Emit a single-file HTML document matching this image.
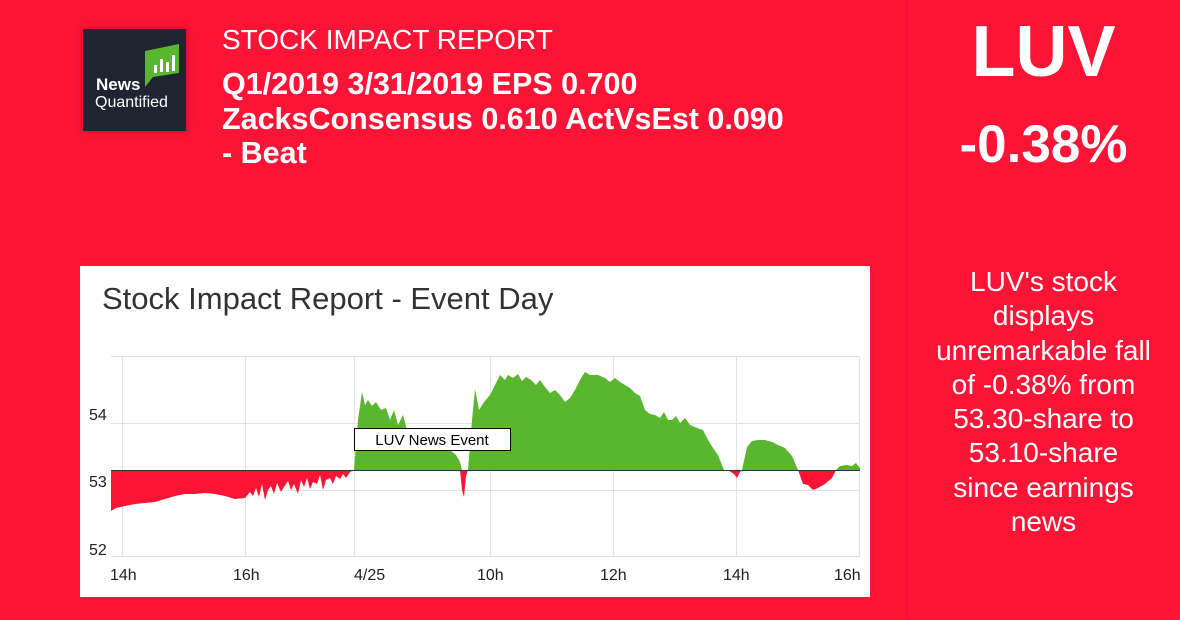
<!DOCTYPE html>
<html><head><meta charset="utf-8"><style>
html,body{margin:0;padding:0}
body{width:1180px;height:620px;background:#fc1436;position:relative;overflow:hidden;font-family:"Liberation Sans",Arial,sans-serif;color:#fff}
.abs{position:absolute}
</style></head><body>
<div class="abs" style="left:906px;top:0;width:1px;height:620px;background:#e5112f"></div>
<div class="abs" style="left:83px;top:29px;width:103px;height:102px;background:#1e2430;box-shadow:0 0 8px rgba(0,0,0,0.25)">
  <svg width="103" height="102" style="position:absolute;left:0;top:0">
    <path d="M62 22 L96 15 L96 44 L70 48 L62 58 Z" fill="#5ab52f"/>
    <rect x="71" y="36" width="3" height="8" fill="#fff"/><rect x="77" y="30" width="3" height="13" fill="#fff"/><rect x="83" y="33" width="3" height="10" fill="#fff"/><rect x="89" y="26" width="3" height="16" fill="#fff"/>
  </svg>
  <div class="abs" style="left:13px;top:47px;font-size:17px;font-weight:bold;line-height:18px">News</div>
  <div class="abs" style="left:12px;top:65px;font-size:16px;line-height:18px">Quantified</div>
</div>
<div class="abs" style="left:222px;top:24px;font-size:28px;line-height:32px;white-space:nowrap">STOCK IMPACT REPORT</div>
<div class="abs" style="left:222px;top:67px;font-size:30.5px;font-weight:bold;line-height:34.5px;width:680px;white-space:nowrap">Q1/2019 3/31/2019 EPS 0.700<br>ZacksConsensus 0.610 ActVsEst 0.090<br>- Beat</div>
<div class="abs" style="left:907px;width:273px;top:12px;text-align:center;font-size:72px;font-weight:bold;line-height:80px">LUV</div>
<div class="abs" style="left:907px;width:273px;top:115px;text-align:center;font-size:53px;font-weight:bold;line-height:60px">-0.38%</div>
<div class="abs" style="left:907px;width:273px;top:265px;text-align:center;font-size:28px;line-height:34.3px;white-space:nowrap">LUV's stock<br>displays<br>unremarkable fall<br>of -0.38% from<br>53.30-share to<br>53.10-share<br>since earnings<br>news</div>

<div class="abs" style="left:80px;top:266px;width:790px;height:331px;background:#fff"></div>
<svg class="abs" style="left:0;top:0" width="1180" height="620">
  <text x="102" y="309" font-size="31" fill="#333" font-family="Liberation Sans,Arial,sans-serif">Stock Impact Report - Event Day</text>
  <g stroke="#e3e3e3" stroke-width="1">
    <line x1="111" y1="356.5" x2="860" y2="356.5"/>
    <line x1="111" y1="423.5" x2="860" y2="423.5"/>
    <line x1="111" y1="490.5" x2="860" y2="490.5"/>
    <line x1="111" y1="556.5" x2="860" y2="556.5"/>
    <line x1="122.5" y1="356" x2="122.5" y2="556"/>
    <line x1="245.5" y1="356" x2="245.5" y2="556"/>
    <line x1="354.5" y1="356" x2="354.5" y2="556"/>
    <line x1="490.5" y1="356" x2="490.5" y2="556"/>
    <line x1="613.5" y1="356" x2="613.5" y2="556"/>
    <line x1="736.5" y1="356" x2="736.5" y2="556"/>
    <line x1="859.5" y1="356" x2="859.5" y2="556"/>
  </g>
  <defs>
    <clipPath id="up"><rect x="100" y="300" width="800" height="170"/></clipPath>
    <clipPath id="dn"><rect x="100" y="470" width="800" height="100"/></clipPath>
  </defs>
  <path clip-path="url(#up)" fill="#5ab52f" d="M354 470 L358 420 L362 392 L365 405 L368 400 L372 406 L376 402 L381 410 L386 408 L390 420 L394 410 L398 425 L403 415 L407 430 L412 440 L420 442 L430 445 L440 448 L450 450 L456 455 L460 462 L462 470 L466 476 L468 470 L472 420 L475 389 L479 410 L484 402 L490 395 L495 385 L500 375 L505 380 L508 375 L513 378 L518 374 L522 381 L526 377 L531 380 L536 385 L540 380 L545 387 L550 393 L555 390 L560 395 L565 402 L570 398 L575 390 L580 380 L585 372 L590 375 L598 375 L605 378 L610 382 L615 378 L620 382 L625 385 L630 388 L635 393 L640 396 L645 410 L650 414 L655 415 L660 418 L664 412 L668 420 L672 420 L676 416 L680 423 L685 418 L690 425 L697 428 L703 430 L708 440 L713 448 L718 455 L724 470 L742 470 L747 447 L752 441 L758 440 L765 440 L772 442 L778 445 L785 448 L792 456 L798 470 L836 470 L840 466 L846 465 L852 466 L856 463 L860 468 L860 470 Z"/>
  <path clip-path="url(#dn)" fill="#fc1436" d="M111 470 L111 511 L116 508 L125 506 L135 504 L145 503 L155 502 L165 499 L175 496 L185 494 L195 494 L205 493 L215 494 L225 496 L235 499 L245 498 L250 492 L253 496 L256 488 L259 497 L262 484 L265 500 L268 490 L271 486 L274 494 L277 483 L281 492 L284 487 L288 481 L291 490 L294 484 L298 494 L301 480 L304 487 L307 478 L310 489 L313 482 L317 484 L320 475 L323 490 L326 480 L330 478 L333 484 L336 476 L340 479 L343 474 L346 478 L350 472 L354 470 Z M458 470 L460 470 L462 490 L464 497 L466 476 L468 470 Z M728 470 L734 474 L737 478 L740 472 L742 470 Z M798 470 L803 484 L808 485 L813 490 L818 488 L825 484 L832 478 L836 470 Z"/>
  <line x1="111" y1="470.5" x2="860" y2="470.5" stroke="#333" stroke-width="1"/>
  <rect x="354.5" y="428.5" width="156" height="22" fill="#fff" stroke="#000" stroke-width="1"/>
  <text x="432" y="445" font-size="15" text-anchor="middle" fill="#000" font-family="Liberation Sans,Arial,sans-serif">LUV News Event</text>
  <g font-size="16" fill="#222" font-family="Liberation Sans,Arial,sans-serif">
    <text x="89" y="420">54</text>
    <text x="89" y="487">53</text>
    <text x="89" y="555">52</text>
    <text x="110" y="580">14h</text>
    <text x="233" y="580">16h</text>
    <text x="354" y="580">4/25</text>
    <text x="477" y="580">10h</text>
    <text x="600" y="580">12h</text>
    <text x="723" y="580">14h</text>
    <text x="834" y="580">16h</text>
  </g>
</svg>
</body></html>
